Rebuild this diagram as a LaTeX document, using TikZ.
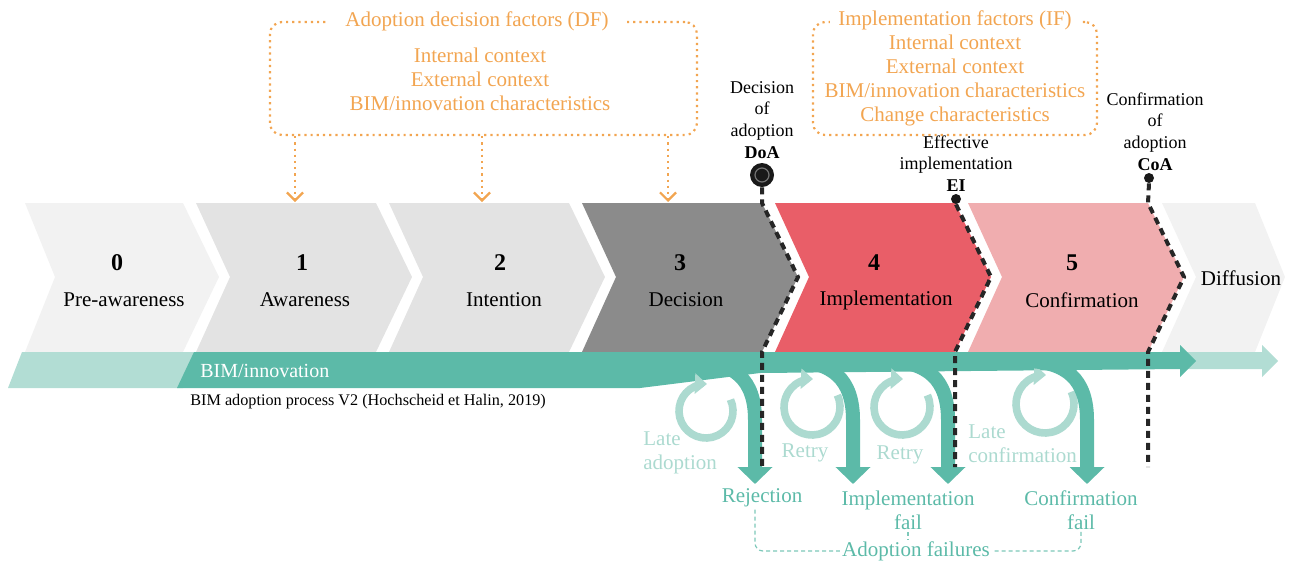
\documentclass[tikz,border=0pt]{standalone}
\usepackage{fontspec}
\setmainfont{Liberation Serif}
\usetikzlibrary{calc,arrows.meta}

\definecolor{dfcol}{HTML}{F2A551}
\definecolor{bimdark}{HTML}{5CBAA8}
\definecolor{bimlight}{HTML}{B2DDD4}
\definecolor{loopcol}{HTML}{ACDAD0}
\definecolor{stage0}{HTML}{F2F2F2}
\definecolor{stage1}{HTML}{E3E3E3}
\definecolor{stage3}{HTML}{8B8B8B}
\definecolor{stage4}{HTML}{E95E68}
\definecolor{stage5}{HTML}{F0ADAF}

\begin{document}
\begin{tikzpicture}[x=0.5pt, y=-0.5pt,
    stagenum/.style={font=\fontsize{12}{14}\selectfont\bfseries},
    stagename/.style={font=\fontsize{10.5}{12}\selectfont},
    factor/.style={dfcol, line width=1.1pt, dotted},
    factortext/.style={text=dfcol, font=\fontsize{10.5}{12}\selectfont, align=center},
    factorarrow/.style={factor, -{Straight Barb[length=4pt,width=8pt]}},
    milestone/.style={black!85, line width=2pt, dash pattern=on 3.5pt off 2.5pt},
    milelabel/.style={font=\fontsize{9}{10.8}\selectfont, align=center, inner sep=1pt},
    dot/.style={circle, fill=black!90, inner sep=0pt, minimum size=5pt},
    failarrow/.style={bimdark, line width=7pt, -{Triangle[width=17pt,length=8.5pt]}},
    retry/.style={loopcol, line width=3.8pt, -{Triangle[width=10pt,length=6pt]}},
    retrytext/.style={text=loopcol, font=\fontsize{10.5}{12}\selectfont, align=left, inner sep=1pt},
    failtext/.style={text=bimdark, font=\fontsize{10.5}{12}\selectfont, align=center, inner sep=1pt},
    bracket/.style={bimdark!80, line width=0.6pt, dash pattern=on 2pt off 1.5pt, rounded corners=4pt}]
  \useasboundingbox (0,0) rectangle (1291,563);

  % stages
  \fill[stage0] (25,203) -- (183,203) -- (219,277) -- (183,352) -- (25,352) -- (55,277) -- cycle;
  \fill[stage1] (196,203) -- ++(180,0) -- ++(36,74) -- ++(-36,75) -- ++(-180,0) -- ++(34,-75) -- cycle;
  \fill[stage1] (389,203) -- ++(180,0) -- ++(36,74) -- ++(-36,75) -- ++(-180,0) -- ++(34,-75) -- cycle;
  \fill[stage3] (582,203) -- ++(180,0) -- ++(36,74) -- ++(-36,75) -- ++(-180,0) -- ++(34,-75) -- cycle;
  \fill[stage4] (775,203) -- ++(180,0) -- ++(36,74) -- ++(-36,75) -- ++(-180,0) -- ++(34,-75) -- cycle;
  \fill[stage5] (968,203) -- ++(180,0) -- ++(36,74) -- ++(-36,75) -- ++(-180,0) -- ++(34,-75) -- cycle;
  \fill[stage0] (1162,203) -- (1255,203) -- (1285,277) -- (1255,352) -- (1162,352) -- (1196,277) -- cycle;

  \node[stagenum] (n0) at (117,263) {0};
  \node[stagename] (s0) at (124,300) {Pre-awareness};
  \node[stagenum] (n1) at (302,263) {1};
  \node[stagename] (s1) at (305,300) {Awareness};
  \node[stagenum] (n2) at (500,263) {2};
  \node[stagename] (s2) at (504,300) {Intention};
  \node[stagenum] (n3) at (680,263) {3};
  \node[stagename] (s3) at (686,300) {Decision};
  \node[stagenum] (n4) at (874,263) {4};
  \node[stagename] (s4) at (886,300) {Implementation};
  \node[stagenum] (n5) at (1072,263) {5};
  \node[stagename] (s5) at (1082,300) {Confirmation};
  \node[stagename] (s6) at (1241,278) {Diffusion};

  % BIM/innovation band
  \fill[bimlight] (22,352) -- (200,352) -- (183,388) -- (8,388) -- cycle;
  \fill[bimlight] (1185,352) -- (1262,352) -- (1262,345) -- (1278,361) -- (1262,377) -- (1262,369) -- (1185,369) -- cycle;
  \fill[bimdark] (194,352) -- (1180,352) -- (1180,345) -- (1196,361) -- (1180,377) -- (1180,369) -- (760,373) -- (640,388) -- (177,388) -- cycle;
  \node[anchor=west, text=white, font=\fontsize{10}{12}\selectfont, inner sep=0pt] (bim) at (200,371) {BIM/innovation};
  \node[anchor=west, font=\fontsize{8.1}{10}\selectfont, inner sep=0pt] (source) at (190,402) {BIM adoption process V2 (Hochscheid et Halin, 2019)};

  % adoption decision factors
  \node[factor, draw, rounded corners=6pt, minimum width=213.5pt, minimum height=56.5pt] (dfbox) at (483.5,78.5) {};
  \node[factortext, fill=white, inner xsep=8pt, inner ysep=1pt] (dftitle) at (477,21) {Adoption decision factors (DF)};
  \node[factortext] (dflist) at (480,79) {Internal context\\External context\\BIM/innovation characteristics};
  \coordinate (df1) at (295,202);
  \coordinate (df2) at (482,202);
  \coordinate (df3) at (668,202);
  \draw[factorarrow] (dfbox.south -| df1) -- (df1);
  \draw[factorarrow] (dfbox.south -| df2) -- (df2);
  \draw[factorarrow] (dfbox.south -| df3) -- (df3);

  % implementation factors
  \node[factor, draw, rounded corners=6pt, minimum width=142pt, minimum height=56.5pt] (ifbox) at (955,78.5) {};
  \node[factortext, fill=white, inner xsep=4pt, inner ysep=1pt] (iftitle) at (955,20) {Implementation factors (IF)};
  \node[factortext] (iflist) at (955,80) {Internal context\\External context\\BIM/innovation characteristics\\Change characteristics};

  % milestones
  \node[circle, fill=black!90, inner sep=0pt, minimum size=12pt, label={[milelabel, label distance=1pt]above:Decision\\of\\adoption\\\textbf{DoA}}] (doa) at (762,175) {};
  \draw[black!55, line width=0.6pt] (doa) circle[radius=7];
  \node[dot, label={[milelabel]above:Effective\\implementation\\\textbf{EI}}] (ei) at (956,199) {};
  \node[dot, label={[milelabel, xshift=3pt]above:Confirmation\\of\\adoption\\\textbf{CoA}}] (coa) at (1149,178) {};
  \coordinate (doaend) at (762,467);
  \coordinate (eiend) at (955,467);
  \coordinate (coaend) at (1148,467);

  % retry loops
  \draw[retry] (706,411) ++(-25:27) arc[start angle=-25, end angle=272, radius=27];
  \draw[retry] (812,407) ++(-25:28) arc[start angle=-25, end angle=272, radius=28];
  \draw[retry] (902,407) ++(-25:28) arc[start angle=-25, end angle=272, radius=28];
  \draw[retry] (1045,404) ++(-25:29) arc[start angle=-25, end angle=272, radius=29];

  % adoption failures
  \draw[failarrow] (690,361) .. controls (735,361) and (755,380) .. (755,420) -- (755,484);
  \draw[failarrow] (790,361) .. controls (833,361) and (853,380) .. (853,420) -- (853,484);
  \draw[failarrow] (885,361) .. controls (928,361) and (948,380) .. (948,420) -- (948,484);
  \draw[failarrow] (1024,361) .. controls (1067,361) and (1087,380) .. (1087,420) -- (1087,484);

  \draw[milestone] (doa.south) -- (762,203) -- (798,277) -- (762,352) -- (doaend);
  \draw[milestone] (ei.south) -- (991,277) -- (955,352) -- (eiend);
  \draw[milestone] (coa.south) -- (1148,203) -- (1184,277) -- (1148,352) -- (coaend);

  \node[retrytext, anchor=west] (lateadopt) at (641,453) {Late\\adoption};
  \node[retrytext] (retry1) at (805,453) {Retry};
  \node[retrytext] (retry2) at (900,455) {Retry};
  \node[retrytext, anchor=west] (lateconf) at (966,444) {Late\\confirmation};

  \node[failtext] (rej) at (762,498) {Rejection};
  \node[failtext] (implfail) at (908,510) {Implementation\\fail};
  \node[failtext] (conffail) at (1081,510) {Confirmation\\fail};
  \node[failtext] (failures) at (916,551) {Adoption failures};
  \draw[bracket] ([xshift=-3.5pt]rej.south) |- (failures.west);
  \draw[bracket] (conffail.south) |- (failures.east);
  \draw[bracket] (implfail.south) -- (implfail.south |- failures.north);
\end{tikzpicture}
\end{document}
